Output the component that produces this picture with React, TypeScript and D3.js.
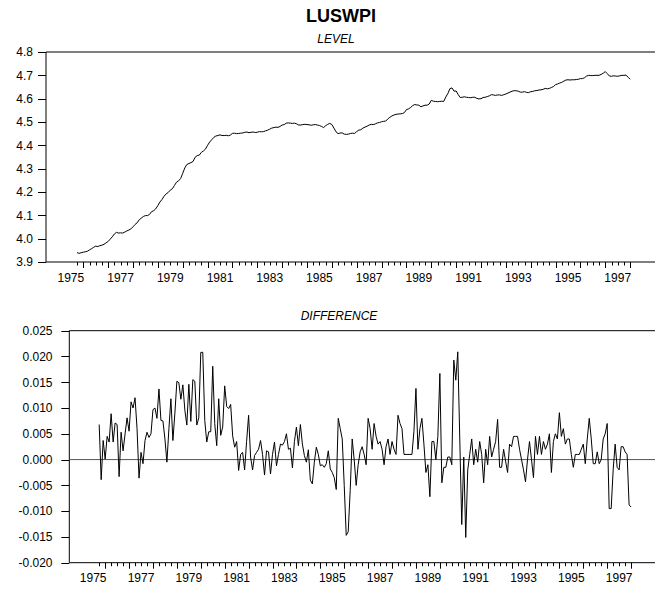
import React from "react";
import * as d3 from "d3";

// Monthly observations starting 1975M10
const START_TIME = 1975 + 9 / 12;

const levelValues: number[] = [
  3.94, 3.937, 3.94,
  3.942, 3.944, 3.946, 3.952, 3.957, 3.963, 3.968, 3.966, 3.97, 3.972, 3.976, 3.982,
  3.988, 3.998, 4.008, 4.02, 4.027, 4.024, 4.025, 4.024, 4.028, 4.033, 4.037, 4.042,
  4.051, 4.061, 4.068, 4.081, 4.088, 4.095, 4.099, 4.099, 4.104, 4.116, 4.12, 4.128,
  4.142, 4.157, 4.168, 4.182, 4.192, 4.198, 4.208, 4.214, 4.228, 4.242, 4.248, 4.258,
  4.28, 4.303, 4.318, 4.322, 4.326, 4.331, 4.349, 4.356, 4.358, 4.37, 4.376, 4.384,
  4.4, 4.414, 4.424, 4.434, 4.44, 4.442, 4.445, 4.442, 4.442, 4.443, 4.441, 4.444,
  4.451, 4.452, 4.45, 4.451, 4.452, 4.453, 4.456, 4.457, 4.454, 4.456, 4.457, 4.455,
  4.456, 4.459, 4.458, 4.459, 4.462, 4.465, 4.469, 4.474, 4.476, 4.478, 4.477, 4.481,
  4.487, 4.489, 4.495, 4.496, 4.495, 4.494, 4.495, 4.492, 4.487, 4.487, 4.489, 4.49,
  4.489, 4.488, 4.486, 4.488, 4.489, 4.487, 4.485, 4.481, 4.476, 4.484, 4.49, 4.494,
  4.489, 4.474, 4.458, 4.45, 4.453, 4.453, 4.448, 4.447, 4.448, 4.451, 4.452, 4.451,
  4.459, 4.465, 4.467, 4.474, 4.478, 4.482, 4.487, 4.49, 4.489, 4.492, 4.496, 4.498,
  4.501, 4.503, 4.504, 4.513, 4.52, 4.526, 4.53, 4.533, 4.534, 4.535, 4.536, 4.54,
  4.553, 4.556, 4.562, 4.57, 4.575, 4.573, 4.572, 4.565, 4.569, 4.572, 4.572, 4.577,
  4.593, 4.589, 4.588, 4.587, 4.588, 4.589, 4.588, 4.607, 4.622, 4.643, 4.646, 4.632,
  4.633, 4.617, 4.605, 4.606, 4.608, 4.606, 4.605, 4.604, 4.606, 4.606, 4.601, 4.599,
  4.6, 4.605, 4.606, 4.609, 4.612, 4.617, 4.616, 4.614, 4.616, 4.616, 4.614, 4.617,
  4.62, 4.624, 4.628, 4.632, 4.634, 4.634, 4.632, 4.628, 4.628, 4.63, 4.627, 4.626,
  4.63, 4.631, 4.634, 4.635, 4.637, 4.638, 4.64, 4.644, 4.642, 4.644, 4.648, 4.652,
  4.66, 4.663, 4.667, 4.67, 4.675, 4.68, 4.681, 4.68, 4.681, 4.681, 4.682, 4.683,
  4.686, 4.686, 4.69, 4.697, 4.7, 4.699, 4.699, 4.7, 4.7, 4.7, 4.704, 4.709,
  4.716, 4.707, 4.697, 4.696, 4.698, 4.697, 4.696, 4.698, 4.7, 4.7, 4.701, 4.692,
  4.683,
];

const diffValues: number[] = [
  0.0068, -0.0039, 0.0037,
  0.0001, 0.0045, 0.0034, 0.0089, 0.0034, 0.0071, 0.0068, -0.0033, 0.0053, 0.0017, 0.005, 0.0081,
  0.0055, 0.0112, 0.01, 0.012, 0.006, -0.0036, 0.0014, -0.0008, 0.0037, 0.0053, 0.0043, 0.005,
  0.0097, 0.01, 0.008, 0.0137, 0.0076, 0.0075, 0.004, -0.0005, 0.006, 0.0118, 0.0037, 0.009,
  0.0152, 0.0149, 0.0117, 0.0145, 0.0096, 0.0067, 0.0146, 0.0074, 0.0155, 0.0152, 0.0067, 0.0081,
  0.0208, 0.0208, 0.0076, 0.0034, 0.0054, 0.0054, 0.0181, 0.007, 0.0027, 0.0118, 0.0047, 0.0063,
  0.0143, 0.0103, 0.0099, 0.0107, 0.0046, 0.0024, 0.0035, -0.0021, 0.001, 0.0014, -0.002, 0.0035,
  0.0086, 0.0005, -0.002, 0.0008, 0.0014, 0.002, 0.0037, 0.001, -0.003, 0.0017, 0.0015, -0.0028,
  0.001, 0.0034, -0.0012, 0.001, 0.003, 0.0028, 0.0035, 0.005, 0.002, 0.0022, -0.0016, 0.0035,
  0.0063, 0.0027, 0.0068, 0.003, 0.0008, -0.0005, 0.0019, -0.004, -0.0047, -0.0005, 0.0024, 0.001,
  -0.0012, -0.001, -0.0015, -0.0008, 0.0017, -0.0018, -0.0025, -0.0035, -0.0058, 0.008, 0.006, 0.004,
  -0.005, -0.0147, -0.014, -0.006, 0.004, 0.0, -0.005, -0.001, 0.0015, 0.0025, 0.001, -0.001,
  0.008, 0.006, 0.002, 0.007, 0.0045, 0.003, 0.0035, 0.002, -0.001, 0.0025, 0.004, 0.001,
  0.0035, 0.002, 0.001, 0.0086, 0.007, 0.006, 0.001, 0.001, 0.001, 0.001, 0.001, 0.0055,
  0.0138, 0.002, 0.006, 0.008, 0.003, -0.0025, -0.001, -0.0072, 0.0035, 0.0035, 0.0, 0.0045,
  0.0167, -0.0045, -0.0015, -0.0015, 0.0005, 0.0005, -0.001, 0.0193, 0.0154, 0.0209, 0.004, -0.0126,
  0.0005, -0.0151, -0.002, 0.001, 0.004, -0.001, 0.002, -0.0005, 0.0035, 0.001, -0.0045, 0.002,
  -0.001, 0.0045, 0.0005, 0.002, 0.0035, 0.0078, -0.0015, -0.0015, 0.002, -0.0003, -0.0025, 0.003,
  0.0025, 0.0045, 0.0045, 0.0045, 0.002, 0.0, -0.002, -0.0043, 0.0, 0.0035, 0.0, -0.0035,
  0.0045, 0.001, 0.0045, 0.001, 0.0035, 0.002, 0.003, 0.005, -0.0025, 0.0035, 0.005, 0.004,
  0.0091, 0.0045, 0.006, 0.003, 0.004, 0.004, 0.001, -0.0015, 0.001, 0.001, 0.001, 0.002,
  0.003, -0.0008, 0.004, 0.008, 0.004, -0.0008, -0.0008, 0.0015, -0.0008, 0.0, 0.004, 0.005,
  0.007, -0.0095, -0.0095, -0.002, 0.003, -0.0015, -0.002, 0.0025, 0.0025, 0.0015, 0.001, -0.0088,
  -0.0092,
];

const levelTicks = [3.9, 4.0, 4.1, 4.2, 4.3, 4.4, 4.5, 4.6, 4.7, 4.8];
const diffTicks = [-0.02, -0.015, -0.01, -0.005, 0.0, 0.005, 0.01, 0.015, 0.02, 0.025];
const yearLabels = [1975, 1977, 1979, 1981, 1983, 1985, 1987, 1989, 1991, 1993, 1995, 1997];
const TIME_DOMAIN: [number, number] = [1974.5, 1999.0];
const TICK_START = 1975.75;
const TICK_END = 1998.0;

const FONT = "'Liberation Sans', Arial, Helvetica, sans-serif";

type PanelProps = {
  values: number[];
  yDomain: [number, number];
  yTicks: number[];
  yFormat: (v: number) => string;
  left: number;
  right: number;
  top: number;
  bottom: number;
  labelRight: number;
  zeroLine?: boolean;
};

function Panel({ values, yDomain, yTicks, yFormat, left, right, top, bottom, labelRight, zeroLine }: PanelProps) {
  const x = d3.scaleLinear().domain(TIME_DOMAIN).range([left, right]);
  const y = d3.scaleLinear().domain(yDomain).range([bottom, top]);
  const pts = values.map((v, i) => ({ t: START_TIME + i / 12, v }));
  const line = d3
    .line<{ t: number; v: number }>()
    .x((d) => x(d.t))
    .y((d) => y(d.v));

  const quarterTicks = d3.range(Math.round((TICK_END - TICK_START) * 4) + 1).map((k) => TICK_START + k / 4);

  return (
    <g>
      {/* frame */}
      <line x1={left} x2={right} y1={top} y2={top} stroke="#000" strokeWidth={1} />
      <line x1={left} x2={right} y1={bottom} y2={bottom} stroke="#000" strokeWidth={1} />
      <line x1={left} x2={left} y1={top} y2={bottom} stroke="#000" strokeWidth={1} />
      {/* y ticks */}
      {yTicks.map((t) => (
        <g key={t}>
          <line x1={left - 8} x2={left} y1={Math.round(y(t)) + 0.5} y2={Math.round(y(t)) + 0.5} stroke="#000" />
          <text
            x={labelRight}
            y={y(t) + 4.3}
            textAnchor="end"
            fontFamily={FONT}
            fontSize={12}
            fill="#000"
          >
            {yFormat(t)}
          </text>
        </g>
      ))}
      {/* x ticks */}
      {quarterTicks.map((t) => {
        const major = Math.abs(t - Math.round(t)) < 1e-6;
        const xx = Math.round(x(t)) + 0.5;
        return (
          <line key={t} x1={xx} x2={xx} y1={bottom} y2={bottom + (major ? 6 : 3.5)} stroke="#000" />
        );
      })}
      {yearLabels.map((yr) => (
        <text
          key={yr}
          x={x(yr + 0.5)}
          y={bottom + 19.5}
          textAnchor="middle"
          fontFamily={FONT}
          fontSize={12}
          fill="#000"
        >
          {yr}
        </text>
      ))}
      {zeroLine && (
        <line x1={left} x2={right} y1={y(0)} y2={y(0)} stroke="#555" strokeWidth={1} />
      )}
      <path d={line(pts) || ""} fill="none" stroke="#000" strokeWidth={1} />
    </g>
  );
}

export default function App() {
  return (
    <svg
      width={655}
      height={590}
      style={{ position: "absolute", left: 0, top: 0, background: "#fff" }}
    >
      <rect x={0} y={0} width={655} height={590} fill="#fff" />
      <text x={341} y={21.7} textAnchor="middle" fontFamily={FONT} fontSize={18} fontWeight="bold">
        LUSWPI
      </text>
      <text x={336} y={42.7} textAnchor="middle" fontFamily={FONT} fontSize={12} fontStyle="italic">
        LEVEL
      </text>
      <Panel
        values={levelValues}
        yDomain={[3.9, 4.8]}
        yTicks={levelTicks}
        yFormat={(v) => v.toFixed(1)}
        left={46}
        right={655}
        top={52}
        bottom={262}
        labelRight={33}
      />
      <text x={339} y={320} textAnchor="middle" fontFamily={FONT} fontSize={12} fontStyle="italic">
        DIFFERENCE
      </text>
      <Panel
        values={diffValues}
        yDomain={[-0.02, 0.025]}
        yTicks={diffTicks}
        yFormat={(v) => v.toFixed(3)}
        left={69.3}
        right={655}
        top={330.7}
        bottom={562.7}
        labelRight={52.5}
        zeroLine
      />
    </svg>
  );
}
